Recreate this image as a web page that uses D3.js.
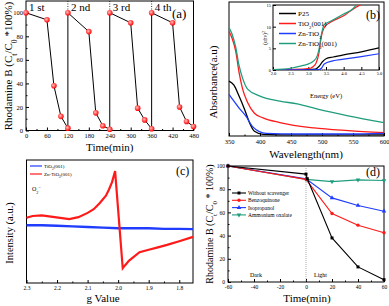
<!DOCTYPE html>
<html>
<head>
<meta charset="utf-8">
<script src="https://cdn.jsdelivr.net/npm/d3@7"></script>
<style>
  body { margin: 0; background: #fff; }
  svg text { font-family: "Liberation Serif", serif; font-weight: normal; }
</style>
</head>
<body>
<svg id="fig" width="389" height="306" font-family="Liberation Serif"></svg>
<script>
// ---- (a) recycling runs
const cycleTime = [0, 60, 80, 100, 120, 120, 180, 200, 220, 240, 240, 300, 320, 340, 360, 360, 420, 440, 460, 480];
const cycleRhB  = [100, 94, 38, 12, 2, 100, 84, 15, 4, 1, 100, 91.5, 19, 9, 1.5, 100, 91.5, 20, 7.7, 3.4];
const cycleLabels = ["1 st", "2 nd", "3 rd", "4 th"];
const cycleStarts = [0, 120, 240, 360];

// ---- (b) UV-vis absorbance
const absSeries = ["P25", "TiO2(001)", "Zn-TiO2", "Zn-TiO2(001)"];
const absWl = {
  "P25":          [350, 358, 366, 375, 383, 391, 405, 460, 520, 600],
  "TiO2(001)":    [350, 355, 361, 366, 372, 380, 391, 405, 432, 487, 542, 600],
  "Zn-TiO2":      [350, 358, 366, 377, 388, 399, 410, 460, 542, 600],
  "Zn-TiO2(001)": [350, 355, 361, 366, 372, 380, 399, 432, 460, 493, 542, 600]
};
const absVal = {
  "P25":          [0.41, 0.38, 0.30, 0.20, 0.10, 0.035, 0.012, 0.008, 0.008, 0.008],
  "TiO2(001)":    [0.78, 0.73, 0.63, 0.48, 0.35, 0.25, 0.17, 0.135, 0.10, 0.06, 0.04, 0.025],
  "Zn-TiO2":      [0.31, 0.26, 0.21, 0.15, 0.07, 0.033, 0.02, 0.015, 0.015, 0.02],
  "Zn-TiO2(001)": [0.81, 0.76, 0.66, 0.53, 0.43, 0.35, 0.30, 0.26, 0.24, 0.20, 0.15, 0.10]
};
// inset: Tauc plot
const tauEnergy = {
  "P25":          [2.0, 3.0, 3.2, 3.3, 3.4, 3.5, 3.7, 4.0, 4.5, 5.0],
  "TiO2(001)":    [2.0, 2.6, 3.06, 3.14, 3.22, 3.3, 3.37, 3.45, 3.6, 4.0, 4.35, 4.6],
  "Zn-TiO2":      [2.0, 3.0, 3.3, 3.37, 3.45, 3.69, 4.0, 4.5, 5.0],
  "Zn-TiO2(001)": [2.0, 2.5, 2.83, 3.06, 3.22, 3.3, 3.37, 3.45, 3.64, 4.0, 4.27, 4.4]
};
const tauVal = {
  "P25":          [0.1, 0.1, 0.2, 0.8, 1.9, 2.6, 3.0, 3.5, 4.2, 5.1],
  "TiO2(001)":    [0.1, 0.15, 0.4, 0.8, 1.6, 3.9, 7.8, 9.8, 10.9, 12.5, 14.5, 15.5],
  "Zn-TiO2":      [0.05, 0.05, 0.1, 0.4, 1.4, 2.1, 2.5, 3.1, 3.75],
  "Zn-TiO2(001)": [0.1, 0.4, 1.0, 1.6, 2.7, 4.7, 8.2, 10.5, 11.3, 12.9, 14.2, 15.5]
};
const absColors = { "P25": "#000000", "TiO2(001)": "#ff1a1a", "Zn-TiO2": "#1f3cff", "Zn-TiO2(001)": "#1f9d7c" };

// ---- (c) ESR
const esrRedG = [2.30, 2.28, 2.25, 2.22, 2.19, 2.16, 2.13, 2.10, 2.08, 2.06, 2.04, 2.03, 2.02, 2.01, 1.985, 1.977, 1.965, 1.95, 1.93, 1.90, 1.87, 1.84, 1.80, 1.755];
const esrRedI = [53, 54.5, 55, 54, 53, 52, 53.5, 57, 60, 65, 71, 76, 82, 91, 12, 14.5, 18, 21, 25, 27, 29, 31, 34, 37.5];
const esrBlueG = [2.30, 2.25, 2.20, 2.15, 2.10, 2.05, 2.00, 1.95, 1.90, 1.85, 1.80, 1.755];
const esrBlueI = [47, 47, 46.5, 46, 45.5, 45, 44.5, 44.5, 44.5, 44, 44, 43.8];

// ---- (d) scavenger experiments
const scavNames = ["Without scavenger", "Benzoquinone", "Isopropanol", "Ammonium oxalate"];
const scavTime = {
  "Without scavenger": [-60, 0, 1, 20, 40, 60],
  "Benzoquinone":      [-60, 0, 20, 40, 60],
  "Isopropanol":       [-60, 0, 20, 40, 60],
  "Ammonium oxalate":  [-60, 0, 20, 40, 60]
};
const scavRhB = {
  "Without scavenger": [100, 93, 89, 38, 13, 2],
  "Benzoquinone":      [100, 88.5, 59, 49, 42.5],
  "Isopropanol":       [100, 89, 72.5, 66, 61],
  "Ammonium oxalate":  [100, 88.5, 86.5, 88, 87.5]
};
const scavColors = { "Without scavenger": "#000000", "Benzoquinone": "#ff1a1a", "Isopropanol": "#1f3cff", "Ammonium oxalate": "#1f9d7c" };
const scavSymbols = { "Without scavenger": d3.symbolSquare, "Benzoquinone": d3.symbolCircle, "Isopropanol": d3.symbolTriangle, "Ammonium oxalate": d3.symbolTriangle };

const svg = d3.select("#fig");
svg.append("rect").attr("width", 389).attr("height", 306).attr("fill", "#fff");

const defs = svg.append("defs");
const grad = defs.append("radialGradient").attr("id", "ball").attr("cx", "40%").attr("cy", "40%").attr("r", "60%");
grad.append("stop").attr("offset", "0%").attr("stop-color", "#ffc0c0");
grad.append("stop").attr("offset", "100%").attr("stop-color", "#ff0000");

// frame + inward ticks on bottom and left
function drawAxes(g, x, y, o) {
  const [xa, xb] = x.range(), [ya, yb] = y.range();
  const fs = o.fontSize || 6.5;
  const xAx = g.append("g").attr("transform", `translate(0,${ya})`)
    .call(d3.axisBottom(x).tickValues(o.xTicks).tickSize(-3).tickPadding(o.xPad || 3).tickFormat(o.xFmt || (d => d)));
  if (o.xMinor) {
    g.append("g").attr("transform", `translate(0,${ya})`)
      .call(d3.axisBottom(x).tickValues(o.xMinor).tickSize(-1.5).tickFormat(""))
      .select(".domain").remove();
  }
  xAx.select(".domain").remove();
  xAx.attr("font-family", null).attr("font-size", fs);
  if (o.yTicks) {
    const yAx = g.append("g").attr("transform", `translate(${xa},0)`)
      .call(d3.axisLeft(y).tickValues(o.yTicks).tickSize(-3).tickPadding(o.yPad || 3).tickFormat(o.yFmt || (d => d)));
    yAx.select(".domain").remove();
    yAx.attr("font-family", null).attr("font-size", fs);
  }
  if (o.yMinor) {
    g.append("g").attr("transform", `translate(${xa},0)`)
      .call(d3.axisLeft(y).tickValues(o.yMinor).tickSize(-1.5).tickFormat(""))
      .select(".domain").remove();
  }
  g.append("rect")
    .attr("x", Math.min(xa, xb)).attr("y", Math.min(ya, yb))
    .attr("width", Math.abs(xb - xa)).attr("height", Math.abs(yb - ya))
    .attr("fill", "none").attr("stroke", "#000").attr("stroke-width", 1);
}

// text made of pieces: [string, "sub"|"sup"|null]
function richText(g, x, y, parts, size, anchor, rotate) {
  const t = g.append("text").attr("x", x).attr("y", y)
    .attr("font-size", size).attr("text-anchor", anchor || "start");
  if (rotate) t.attr("transform", `rotate(${rotate},${x},${y})`);
  parts.forEach(([s, k]) => {
    const sp = t.append("tspan").text(s);
    if (k === "sub") sp.attr("baseline-shift", "sub").attr("font-size", size * 0.7);
    if (k === "sup") sp.attr("baseline-shift", "super").attr("font-size", size * 0.7);
  });
  return t;
}

const rhbTitle = [["Rhodamine B (C", null], ["t", "sub"], ["/C", null], ["0", "sub"], [" *100%)", null]];

// ================= (a)
{
  const g = svg.append("g");
  const x = d3.scaleLinear().domain([0, 480]).range([26, 193.5]);
  const y = d3.scaleLinear().domain([0, 110]).range([130.5, 1]);
  drawAxes(g, x, y, {
    xTicks: d3.range(0, 481, 60), xMinor: d3.range(30, 480, 60),
    yTicks: d3.range(0, 101, 20), yMinor: d3.range(10, 110, 20), fontSize: 6.5
  });
  cycleStarts.slice(1).forEach(t => {
    g.append("line").attr("x1", x(t)).attr("x2", x(t)).attr("y1", y(110)).attr("y2", y(100))
      .attr("stroke", "#000").attr("stroke-width", 0.8).attr("stroke-dasharray", "1,1.5");
  });
  const pts = cycleTime.map((t, i) => [t, cycleRhB[i]]);
  g.append("path").datum(pts)
    .attr("d", d3.line().x(d => x(d[0])).y(d => y(d[1])))
    .attr("fill", "none").attr("stroke", "#000").attr("stroke-width", 1);
  g.selectAll("circle.pt").data(pts).join("circle").attr("class", "pt")
    .attr("cx", d => x(d[0])).attr("cy", d => y(d[1])).attr("r", 2.8)
    .attr("fill", "url(#ball)");
  cycleLabels.forEach((s, i) => {
    g.append("text").attr("x", x(cycleStarts[i]) + 3).attr("y", 11).attr("font-size", 11).text(s);
  });
  g.append("text").attr("x", 172).attr("y", 18).attr("font-size", 13).text("(a)");
  g.append("text").attr("x", (26 + 193.5) / 2).attr("y", 151).attr("text-anchor", "middle").attr("font-size", 11).text("Time(min)");
  richText(g, 12, 66, rhbTitle, 11, "middle", -90);
}

// ================= (b)
{
  const g = svg.append("g");
  const x = d3.scaleLinear().domain([350, 600]).range([229, 384]);
  const y = d3.scaleLinear().domain([0, 1]).range([136, 2]);
  drawAxes(g, x, y, { xTicks: d3.range(350, 601, 50), xMinor: d3.range(375, 600, 50), fontSize: 6.5 });
  const line = d3.line().x(d => x(d[0])).y(d => y(d[1])).curve(d3.curveMonotoneX);
  absSeries.forEach(s => {
    g.append("path").datum(absWl[s].map((w, i) => [w, absVal[s][i]]))
      .attr("d", line).attr("fill", "none").attr("stroke", absColors[s]).attr("stroke-width", 1.3);
  });
  g.append("text").attr("x", 306).attr("y", 158).attr("text-anchor", "middle").attr("font-size", 11).text("Wavelength(nm)");
  g.append("text").attr("x", 217).attr("y", 82).attr("text-anchor", "middle").attr("font-size", 11)
    .attr("transform", "rotate(-90,217,82)").text("Absorbance(a.u)");

  // inset
  const ix = d3.scaleLinear().domain([2, 5]).range([273, 379]);
  const iy = d3.scaleLinear().domain([0, 15]).range([70, 5]);
  g.append("rect").attr("x", 273).attr("y", 5).attr("width", 106).attr("height", 65).attr("fill", "#fff");
  defs.append("clipPath").attr("id", "insetClip").append("rect").attr("x", 273).attr("y", 5).attr("width", 106).attr("height", 65);
  drawAxes(g, ix, iy, {
    xTicks: d3.range(2, 5.01, 0.5), xFmt: d3.format(".1f"), yTicks: [0, 5, 10, 15],
    fontSize: 4.5, xPad: 2, yPad: 2
  });
  g.append("line").attr("x1", ix(3.3)).attr("x2", ix(3.6)).attr("y1", iy(0)).attr("y2", iy(0))
    .attr("stroke", "#ccc").attr("stroke-width", 1).attr("stroke-dasharray", "1,1");
  const iline = d3.line().x(d => ix(d[0])).y(d => iy(d[1])).curve(d3.curveMonotoneX);
  absSeries.forEach(s => {
    g.append("path").datum(tauEnergy[s].map((e, i) => [e, tauVal[s][i]]))
      .attr("clip-path", "url(#insetClip)")
      .attr("d", iline).attr("fill", "none").attr("stroke", absColors[s]).attr("stroke-width", 1.2);
  });
  g.append("text").attr("x", 326).attr("y", 98).attr("text-anchor", "middle").attr("font-size", 6.5).text("Energy (eV)");
  richText(g, 267, 38, [["(αhν)", null], ["2", "sup"]], 5.5, "middle", -90);
  const legParts = {
    "P25": [["P25", null]],
    "TiO2(001)": [["TiO", null], ["2", "sub"], ["(001)", null]],
    "Zn-TiO2": [["Zn-TiO", null], ["2", "sub"]],
    "Zn-TiO2(001)": [["Zn-TiO", null], ["2", "sub"], ["(001)", null]]
  };
  absSeries.forEach((s, i) => {
    const yy = 13.5 + i * 10;
    g.append("line").attr("x1", 279).attr("x2", 296).attr("y1", yy).attr("y2", yy)
      .attr("stroke", absColors[s]).attr("stroke-width", 1.5);
    richText(g, 298, yy + 2.5, legParts[s], 7, "start");
  });
  g.append("text").attr("x", 366).attr("y", 19).attr("font-size", 12).text("(b)");
}

// ================= (c)
{
  const g = svg.append("g");
  const x = d3.scaleLinear().domain([2.3, 1.755]).range([26.5, 193]);
  const y = d3.scaleLinear().domain([0, 100]).range([283, 160]);
  drawAxes(g, x, y, {
    xTicks: [2.3, 2.2, 2.1, 2.0, 1.9, 1.8], xFmt: d3.format(".1f"),
    xMinor: [2.25, 2.15, 2.05, 1.95, 1.85], fontSize: 5.5
  });
  const line = d3.line().x(d => x(d[0])).y(d => y(d[1]));
  g.append("path").datum(esrBlueG.map((v, i) => [v, esrBlueI[i]]))
    .attr("d", line).attr("fill", "none").attr("stroke", "#1f3cff").attr("stroke-width", 2.4);
  g.append("path").datum(esrRedG.map((v, i) => [v, esrRedI[i]]))
    .attr("d", line).attr("fill", "none").attr("stroke", "#ff1a1a").attr("stroke-width", 2.2);
  g.append("line").attr("x1", 30).attr("x2", 42).attr("y1", 166).attr("y2", 166).attr("stroke", "#1f3cff").attr("stroke-width", 1.2);
  g.append("line").attr("x1", 30).attr("x2", 42).attr("y1", 174).attr("y2", 174).attr("stroke", "#ff1a1a").attr("stroke-width", 1.2);
  richText(g, 44, 168, [["TiO", null], ["2", "sub"], ["(001)", null]], 5, "start");
  richText(g, 44, 176, [["Zn-TiO", null], ["2", "sub"], ["(001)", null]], 5, "start");
  richText(g, 32, 191, [["O", null], ["2", "sub"], ["−", "sup"]], 6, "start");
  g.append("text").attr("x", 176).attr("y", 175).attr("font-size", 12).text("(c)");
  g.append("text").attr("x", 103).attr("y", 302).attr("text-anchor", "middle").attr("font-size", 11).text("g Value");
  g.append("text").attr("x", 13).attr("y", 233).attr("text-anchor", "middle").attr("font-size", 10.5)
    .attr("transform", "rotate(-90,13,233)").text("Intensity (a.u.)");
}

// ================= (d)
{
  const g = svg.append("g");
  const x = d3.scaleLinear().domain([-60, 60]).range([228, 384]);
  const y = d3.scaleLinear().domain([0, 100]).range([282, 166]);
  drawAxes(g, x, y, {
    xTicks: d3.range(-60, 61, 20), xMinor: d3.range(-50, 60, 20),
    yTicks: d3.range(0, 101, 20), yMinor: d3.range(10, 100, 20), fontSize: 5.5
  });
  g.append("line").attr("x1", x(0)).attr("x2", x(0)).attr("y1", 166).attr("y2", 282)
    .attr("stroke", "#999").attr("stroke-width", 0.8).attr("stroke-dasharray", "1,1");
  const line = d3.line().x(d => x(d[0])).y(d => y(d[1]));
  scavNames.slice().reverse().forEach(s => {
    const pts = scavTime[s].map((t, i) => [t, scavRhB[s][i]]);
    g.append("path").datum(pts).attr("d", line).attr("fill", "none")
      .attr("stroke", scavColors[s]).attr("stroke-width", 1.1);
    g.selectAll(null).data(pts).join("path")
      .attr("transform", d => `translate(${x(d[0])},${y(d[1])})` + (s === "Ammonium oxalate" ? " rotate(180)" : ""))
      .attr("d", d3.symbol().type(scavSymbols[s]).size(9))
      .attr("fill", scavColors[s]);
  });
  scavNames.forEach((s, i) => {
    const yy = 193 + i * 7.3;
    g.append("line").attr("x1", 232).attr("x2", 246).attr("y1", yy).attr("y2", yy)
      .attr("stroke", scavColors[s]).attr("stroke-width", 1.1);
    g.append("path").attr("transform", `translate(239,${yy})` + (s === "Ammonium oxalate" ? " rotate(180)" : ""))
      .attr("d", d3.symbol().type(scavSymbols[s]).size(9)).attr("fill", scavColors[s]);
    g.append("text").attr("x", 248).attr("y", yy + 2).attr("font-size", 5.5).text(s);
  });
  g.append("text").attr("x", 250).attr("y", 277).attr("font-size", 6).text("Dark");
  g.append("text").attr("x", 314).attr("y", 277).attr("font-size", 6).text("Light");
  g.append("text").attr("x", 366).attr("y", 176).attr("font-size", 12).text("(d)");
  g.append("text").attr("x", 307).attr("y", 302).attr("text-anchor", "middle").attr("font-size", 11).text("Time(min)");
  richText(g, 213, 224, [["Rhodamine B (C", null], ["t", "sub"], ["/C", null], ["0", "sub"], [" * 100%)", null]], 10, "middle", -90);
}
</script>
</body>
</html>
